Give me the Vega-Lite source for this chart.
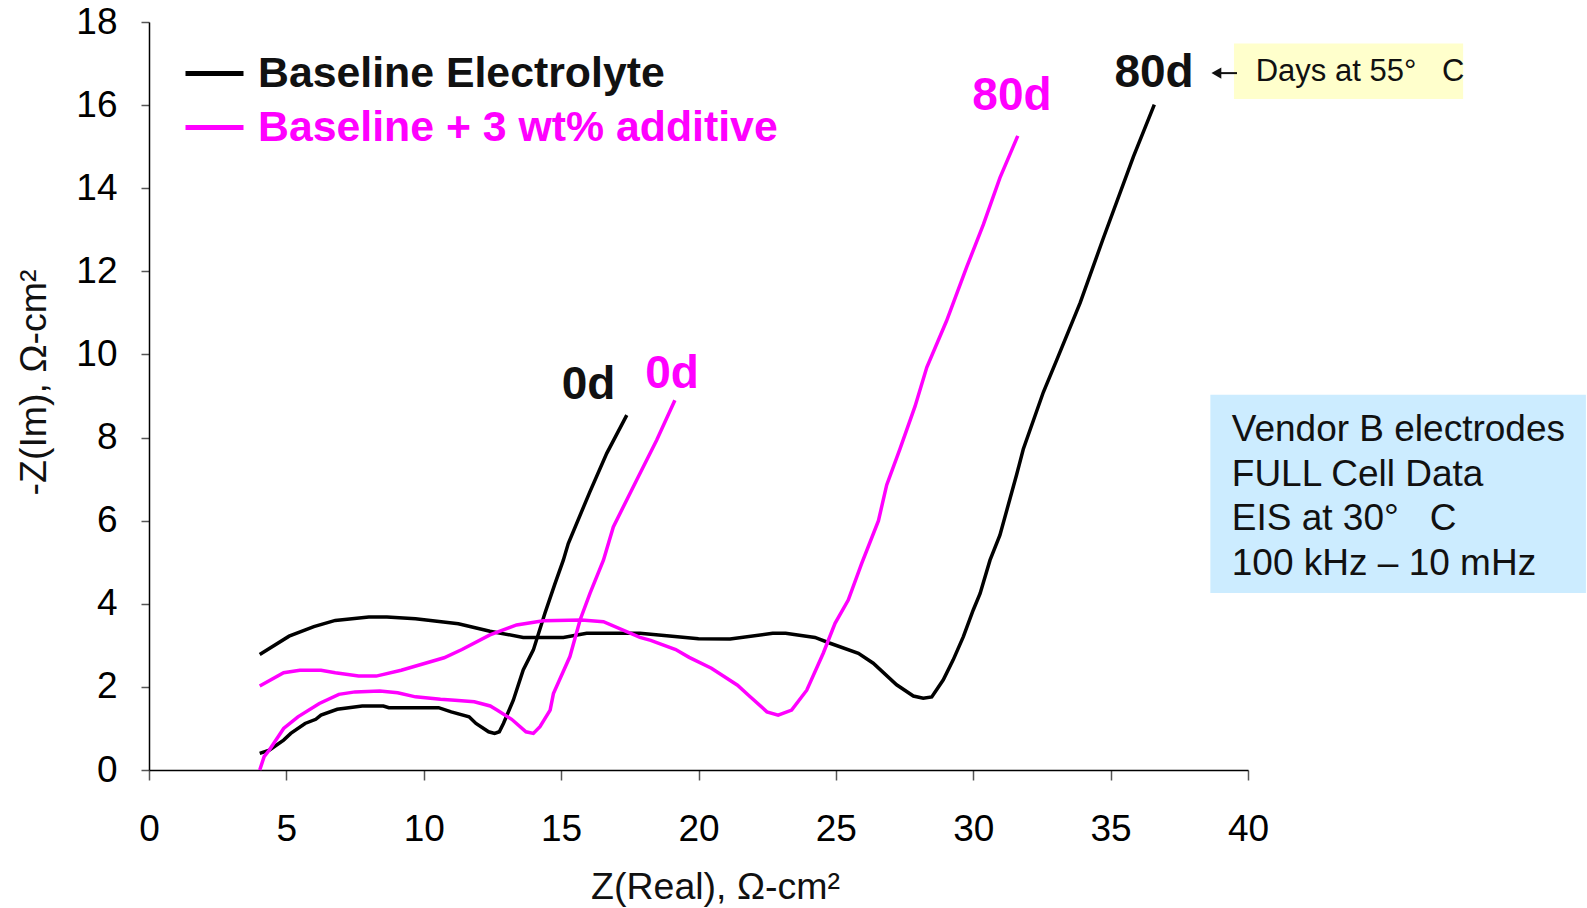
{
  "$schema": "https://vega.github.io/schema/vega-lite/v6.json",
  "width": 1099,
  "height": 748,
  "autosize": "none",
  "padding": {"left": 149, "top": 22, "right": 339, "bottom": 138},
  "background": "white",
  "config": {"view": {"stroke": null}, "font": "Liberation Sans"},
  "data": {"values": [
    {"series": "Baseline Electrolyte", "days": "0d", "i": 1, "x": 4.03, "y": 0.40},
    {"series": "Baseline Electrolyte", "days": "0d", "i": 2, "x": 4.38, "y": 0.48},
    {"series": "Baseline Electrolyte", "days": "0d", "i": 3, "x": 4.9, "y": 0.72},
    {"series": "Baseline Electrolyte", "days": "0d", "i": 4, "x": 5.16, "y": 0.88},
    {"series": "Baseline Electrolyte", "days": "0d", "i": 5, "x": 5.68, "y": 1.12},
    {"series": "Baseline Electrolyte", "days": "0d", "i": 6, "x": 6.07, "y": 1.22},
    {"series": "Baseline Electrolyte", "days": "0d", "i": 7, "x": 6.26, "y": 1.32},
    {"series": "Baseline Electrolyte", "days": "0d", "i": 8, "x": 6.85, "y": 1.46},
    {"series": "Baseline Electrolyte", "days": "0d", "i": 9, "x": 7.76, "y": 1.54},
    {"series": "Baseline Electrolyte", "days": "0d", "i": 10, "x": 8.53, "y": 1.54},
    {"series": "Baseline Electrolyte", "days": "0d", "i": 11, "x": 8.73, "y": 1.50},
    {"series": "Baseline Electrolyte", "days": "0d", "i": 12, "x": 10.54, "y": 1.50},
    {"series": "Baseline Electrolyte", "days": "0d", "i": 13, "x": 11.0, "y": 1.40},
    {"series": "Baseline Electrolyte", "days": "0d", "i": 14, "x": 11.65, "y": 1.28},
    {"series": "Baseline Electrolyte", "days": "0d", "i": 15, "x": 11.9, "y": 1.12},
    {"series": "Baseline Electrolyte", "days": "0d", "i": 16, "x": 12.36, "y": 0.92},
    {"series": "Baseline Electrolyte", "days": "0d", "i": 17, "x": 12.58, "y": 0.88},
    {"series": "Baseline Electrolyte", "days": "0d", "i": 18, "x": 12.75, "y": 0.92},
    {"series": "Baseline Electrolyte", "days": "0d", "i": 19, "x": 12.9, "y": 1.12},
    {"series": "Baseline Electrolyte", "days": "0d", "i": 20, "x": 13.26, "y": 1.68},
    {"series": "Baseline Electrolyte", "days": "0d", "i": 21, "x": 13.62, "y": 2.41},
    {"series": "Baseline Electrolyte", "days": "0d", "i": 22, "x": 13.99, "y": 2.89},
    {"series": "Baseline Electrolyte", "days": "0d", "i": 23, "x": 14.41, "y": 3.77},
    {"series": "Baseline Electrolyte", "days": "0d", "i": 24, "x": 14.78, "y": 4.49},
    {"series": "Baseline Electrolyte", "days": "0d", "i": 25, "x": 15.08, "y": 5.05},
    {"series": "Baseline Electrolyte", "days": "0d", "i": 26, "x": 15.26, "y": 5.45},
    {"series": "Baseline Electrolyte", "days": "0d", "i": 27, "x": 16.05, "y": 6.70},
    {"series": "Baseline Electrolyte", "days": "0d", "i": 28, "x": 16.66, "y": 7.62},
    {"series": "Baseline Electrolyte", "days": "0d", "i": 29, "x": 17.39, "y": 8.54},

    {"series": "Baseline Electrolyte", "days": "80d", "i": 1, "x": 4.03, "y": 2.78},
    {"series": "Baseline Electrolyte", "days": "80d", "i": 2, "x": 5.1, "y": 3.22},
    {"series": "Baseline Electrolyte", "days": "80d", "i": 3, "x": 6.0, "y": 3.45},
    {"series": "Baseline Electrolyte", "days": "80d", "i": 4, "x": 6.78, "y": 3.60},
    {"series": "Baseline Electrolyte", "days": "80d", "i": 5, "x": 8.0, "y": 3.68},
    {"series": "Baseline Electrolyte", "days": "80d", "i": 6, "x": 8.66, "y": 3.68},
    {"series": "Baseline Electrolyte", "days": "80d", "i": 7, "x": 9.7, "y": 3.64},
    {"series": "Baseline Electrolyte", "days": "80d", "i": 8, "x": 11.26, "y": 3.52},
    {"series": "Baseline Electrolyte", "days": "80d", "i": 9, "x": 12.41, "y": 3.34},
    {"series": "Baseline Electrolyte", "days": "80d", "i": 10, "x": 13.62, "y": 3.19},
    {"series": "Baseline Electrolyte", "days": "80d", "i": 11, "x": 15.08, "y": 3.19},
    {"series": "Baseline Electrolyte", "days": "80d", "i": 12, "x": 15.93, "y": 3.29},
    {"series": "Baseline Electrolyte", "days": "80d", "i": 13, "x": 17.87, "y": 3.29},
    {"series": "Baseline Electrolyte", "days": "80d", "i": 14, "x": 19.04, "y": 3.22},
    {"series": "Baseline Electrolyte", "days": "80d", "i": 15, "x": 20.0, "y": 3.16},
    {"series": "Baseline Electrolyte", "days": "80d", "i": 16, "x": 21.15, "y": 3.15},
    {"series": "Baseline Electrolyte", "days": "80d", "i": 17, "x": 22.7, "y": 3.29},
    {"series": "Baseline Electrolyte", "days": "80d", "i": 18, "x": 23.17, "y": 3.29},
    {"series": "Baseline Electrolyte", "days": "80d", "i": 19, "x": 24.24, "y": 3.19},
    {"series": "Baseline Electrolyte", "days": "80d", "i": 20, "x": 24.79, "y": 3.05},
    {"series": "Baseline Electrolyte", "days": "80d", "i": 21, "x": 25.82, "y": 2.81},
    {"series": "Baseline Electrolyte", "days": "80d", "i": 22, "x": 26.36, "y": 2.57},
    {"series": "Baseline Electrolyte", "days": "80d", "i": 23, "x": 27.21, "y": 2.05},
    {"series": "Baseline Electrolyte", "days": "80d", "i": 24, "x": 27.82, "y": 1.78},
    {"series": "Baseline Electrolyte", "days": "80d", "i": 25, "x": 28.18, "y": 1.73},
    {"series": "Baseline Electrolyte", "days": "80d", "i": 26, "x": 28.49, "y": 1.76},
    {"series": "Baseline Electrolyte", "days": "80d", "i": 27, "x": 28.91, "y": 2.17},
    {"series": "Baseline Electrolyte", "days": "80d", "i": 28, "x": 29.27, "y": 2.65},
    {"series": "Baseline Electrolyte", "days": "80d", "i": 29, "x": 29.64, "y": 3.21},
    {"series": "Baseline Electrolyte", "days": "80d", "i": 30, "x": 30.0, "y": 3.85},
    {"series": "Baseline Electrolyte", "days": "80d", "i": 31, "x": 30.25, "y": 4.25},
    {"series": "Baseline Electrolyte", "days": "80d", "i": 32, "x": 30.61, "y": 5.05},
    {"series": "Baseline Electrolyte", "days": "80d", "i": 33, "x": 30.97, "y": 5.65},
    {"series": "Baseline Electrolyte", "days": "80d", "i": 34, "x": 31.58, "y": 7.11},
    {"series": "Baseline Electrolyte", "days": "80d", "i": 35, "x": 31.82, "y": 7.72},
    {"series": "Baseline Electrolyte", "days": "80d", "i": 36, "x": 32.55, "y": 9.09},
    {"series": "Baseline Electrolyte", "days": "80d", "i": 37, "x": 33.04, "y": 9.87},
    {"series": "Baseline Electrolyte", "days": "80d", "i": 38, "x": 33.89, "y": 11.24},
    {"series": "Baseline Electrolyte", "days": "80d", "i": 39, "x": 34.73, "y": 12.79},
    {"series": "Baseline Electrolyte", "days": "80d", "i": 40, "x": 35.83, "y": 14.76},
    {"series": "Baseline Electrolyte", "days": "80d", "i": 41, "x": 36.59, "y": 16.01},

    {"series": "Baseline + 3 wt% additive", "days": "0d", "i": 1, "x": 4.03, "y": 0.0},
    {"series": "Baseline + 3 wt% additive", "days": "0d", "i": 2, "x": 4.19, "y": 0.32},
    {"series": "Baseline + 3 wt% additive", "days": "0d", "i": 3, "x": 4.38, "y": 0.48},
    {"series": "Baseline + 3 wt% additive", "days": "0d", "i": 4, "x": 4.9, "y": 1.0},
    {"series": "Baseline + 3 wt% additive", "days": "0d", "i": 5, "x": 5.42, "y": 1.28},
    {"series": "Baseline + 3 wt% additive", "days": "0d", "i": 6, "x": 6.2, "y": 1.6},
    {"series": "Baseline + 3 wt% additive", "days": "0d", "i": 7, "x": 6.91, "y": 1.82},
    {"series": "Baseline + 3 wt% additive", "days": "0d", "i": 8, "x": 7.5, "y": 1.88},
    {"series": "Baseline + 3 wt% additive", "days": "0d", "i": 9, "x": 8.4, "y": 1.90},
    {"series": "Baseline + 3 wt% additive", "days": "0d", "i": 10, "x": 9.05, "y": 1.86},
    {"series": "Baseline + 3 wt% additive", "days": "0d", "i": 11, "x": 9.7, "y": 1.76},
    {"series": "Baseline + 3 wt% additive", "days": "0d", "i": 12, "x": 10.61, "y": 1.70},
    {"series": "Baseline + 3 wt% additive", "days": "0d", "i": 13, "x": 11.13, "y": 1.68},
    {"series": "Baseline + 3 wt% additive", "days": "0d", "i": 14, "x": 11.84, "y": 1.64},
    {"series": "Baseline + 3 wt% additive", "days": "0d", "i": 15, "x": 12.42, "y": 1.54},
    {"series": "Baseline + 3 wt% additive", "days": "0d", "i": 16, "x": 12.68, "y": 1.44},
    {"series": "Baseline + 3 wt% additive", "days": "0d", "i": 17, "x": 13.2, "y": 1.22},
    {"series": "Baseline + 3 wt% additive", "days": "0d", "i": 18, "x": 13.72, "y": 0.92},
    {"series": "Baseline + 3 wt% additive", "days": "0d", "i": 19, "x": 13.99, "y": 0.88},
    {"series": "Baseline + 3 wt% additive", "days": "0d", "i": 20, "x": 14.23, "y": 1.04},
    {"series": "Baseline + 3 wt% additive", "days": "0d", "i": 21, "x": 14.6, "y": 1.44},
    {"series": "Baseline + 3 wt% additive", "days": "0d", "i": 22, "x": 14.72, "y": 1.84},
    {"series": "Baseline + 3 wt% additive", "days": "0d", "i": 23, "x": 15.32, "y": 2.73},
    {"series": "Baseline + 3 wt% additive", "days": "0d", "i": 24, "x": 15.69, "y": 3.61},
    {"series": "Baseline + 3 wt% additive", "days": "0d", "i": 25, "x": 16.05, "y": 4.25},
    {"series": "Baseline + 3 wt% additive", "days": "0d", "i": 26, "x": 16.54, "y": 5.05},
    {"series": "Baseline + 3 wt% additive", "days": "0d", "i": 27, "x": 16.9, "y": 5.85},
    {"series": "Baseline + 3 wt% additive", "days": "0d", "i": 28, "x": 17.75, "y": 6.98},
    {"series": "Baseline + 3 wt% additive", "days": "0d", "i": 29, "x": 18.48, "y": 7.94},
    {"series": "Baseline + 3 wt% additive", "days": "0d", "i": 30, "x": 19.14, "y": 8.90},

    {"series": "Baseline + 3 wt% additive", "days": "80d", "i": 1, "x": 4.03, "y": 2.02},
    {"series": "Baseline + 3 wt% additive", "days": "80d", "i": 2, "x": 4.9, "y": 2.34},
    {"series": "Baseline + 3 wt% additive", "days": "80d", "i": 3, "x": 5.49, "y": 2.40},
    {"series": "Baseline + 3 wt% additive", "days": "80d", "i": 4, "x": 6.26, "y": 2.40},
    {"series": "Baseline + 3 wt% additive", "days": "80d", "i": 5, "x": 6.78, "y": 2.34},
    {"series": "Baseline + 3 wt% additive", "days": "80d", "i": 6, "x": 7.63, "y": 2.26},
    {"series": "Baseline + 3 wt% additive", "days": "80d", "i": 7, "x": 8.27, "y": 2.26},
    {"series": "Baseline + 3 wt% additive", "days": "80d", "i": 8, "x": 9.18, "y": 2.40},
    {"series": "Baseline + 3 wt% additive", "days": "80d", "i": 9, "x": 10.74, "y": 2.70},
    {"series": "Baseline + 3 wt% additive", "days": "80d", "i": 10, "x": 11.39, "y": 2.90},
    {"series": "Baseline + 3 wt% additive", "days": "80d", "i": 11, "x": 12.41, "y": 3.25},
    {"series": "Baseline + 3 wt% additive", "days": "80d", "i": 12, "x": 13.38, "y": 3.49},
    {"series": "Baseline + 3 wt% additive", "days": "80d", "i": 13, "x": 14.35, "y": 3.59},
    {"series": "Baseline + 3 wt% additive", "days": "80d", "i": 14, "x": 15.75, "y": 3.61},
    {"series": "Baseline + 3 wt% additive", "days": "80d", "i": 15, "x": 16.54, "y": 3.57},
    {"series": "Baseline + 3 wt% additive", "days": "80d", "i": 16, "x": 17.87, "y": 3.19},
    {"series": "Baseline + 3 wt% additive", "days": "80d", "i": 17, "x": 18.26, "y": 3.12},
    {"series": "Baseline + 3 wt% additive", "days": "80d", "i": 18, "x": 19.17, "y": 2.90},
    {"series": "Baseline + 3 wt% additive", "days": "80d", "i": 19, "x": 19.66, "y": 2.71},
    {"series": "Baseline + 3 wt% additive", "days": "80d", "i": 20, "x": 20.47, "y": 2.45},
    {"series": "Baseline + 3 wt% additive", "days": "80d", "i": 21, "x": 21.42, "y": 2.04},
    {"series": "Baseline + 3 wt% additive", "days": "80d", "i": 22, "x": 21.82, "y": 1.80},
    {"series": "Baseline + 3 wt% additive", "days": "80d", "i": 23, "x": 22.49, "y": 1.40},
    {"series": "Baseline + 3 wt% additive", "days": "80d", "i": 24, "x": 22.9, "y": 1.32},
    {"series": "Baseline + 3 wt% additive", "days": "80d", "i": 25, "x": 23.39, "y": 1.44},
    {"series": "Baseline + 3 wt% additive", "days": "80d", "i": 26, "x": 23.94, "y": 1.92},
    {"series": "Baseline + 3 wt% additive", "days": "80d", "i": 27, "x": 24.54, "y": 2.81},
    {"series": "Baseline + 3 wt% additive", "days": "80d", "i": 28, "x": 24.97, "y": 3.53},
    {"series": "Baseline + 3 wt% additive", "days": "80d", "i": 29, "x": 25.45, "y": 4.09},
    {"series": "Baseline + 3 wt% additive", "days": "80d", "i": 30, "x": 25.94, "y": 4.97},
    {"series": "Baseline + 3 wt% additive", "days": "80d", "i": 31, "x": 26.55, "y": 6.0},
    {"series": "Baseline + 3 wt% additive", "days": "80d", "i": 32, "x": 26.85, "y": 6.86},
    {"series": "Baseline + 3 wt% additive", "days": "80d", "i": 33, "x": 27.33, "y": 7.72},
    {"series": "Baseline + 3 wt% additive", "days": "80d", "i": 34, "x": 27.88, "y": 8.75},
    {"series": "Baseline + 3 wt% additive", "days": "80d", "i": 35, "x": 28.31, "y": 9.69},
    {"series": "Baseline + 3 wt% additive", "days": "80d", "i": 36, "x": 29.03, "y": 10.81},
    {"series": "Baseline + 3 wt% additive", "days": "80d", "i": 37, "x": 29.76, "y": 12.1},
    {"series": "Baseline + 3 wt% additive", "days": "80d", "i": 38, "x": 30.37, "y": 13.13},
    {"series": "Baseline + 3 wt% additive", "days": "80d", "i": 39, "x": 30.97, "y": 14.25},
    {"series": "Baseline + 3 wt% additive", "days": "80d", "i": 40, "x": 31.62, "y": 15.26}
  ]},
  "layer": [
    {
      "mark": {"type": "line", "strokeWidth": 3.5, "interpolate": "linear", "clip": false},
      "encoding": {
        "x": {"field": "x", "type": "quantitative",
          "scale": {"domain": [0, 40], "nice": false, "zero": false},
          "axis": {"title": "Z(Real), Ω-cm²", "values": [0, 5, 10, 15, 20, 25, 30, 35, 40],
            "grid": false, "domainColor": "#000000", "domainWidth": 1.5, "tickColor": "#555555", "tickWidth": 1.5,
            "tickSize": 10, "labelFontSize": 37, "labelColor": "#000000", "labelPadding": 31, "labelFont": "Liberation Sans",
            "labelFlush": false, "labelOverlap": false,
            "titleFontSize": 37.5, "titleFontWeight": "normal", "titleColor": "#111111", "titlePadding": 21, "titleFont": "Liberation Sans",
            "titleX": 566, "titleAlign": "center"}},
        "y": {"field": "y", "type": "quantitative",
          "scale": {"domain": [0, 18], "nice": false, "zero": false},
          "axis": {"title": "-Z(Im), Ω-cm²", "values": [0, 2, 4, 6, 8, 10, 12, 14, 16, 18],
            "grid": false, "domainColor": "#000000", "domainWidth": 1.5, "tickColor": "#555555", "tickWidth": 1.5,
            "tickSize": 8, "labelFontSize": 37, "labelColor": "#000000", "labelPadding": 24, "labelFont": "Liberation Sans",
            "labelFlush": false, "labelOverlap": false,
            "titleFontSize": 37.5, "titleFontWeight": "normal", "titleColor": "#111111", "titlePadding": 22, "titleFont": "Liberation Sans",
            "titleY": 360, "titleAlign": "center"}},
        "color": {"field": "series", "type": "nominal",
          "scale": {"domain": ["Baseline Electrolyte", "Baseline + 3 wt% additive"], "range": ["#000000", "#FF00FF"]},
          "legend": {"orient": "none", "legendX": 34, "legendY": 20, "title": null,
            "symbolType": "stroke", "symbolSize": 3364, "symbolStrokeWidth": 5,
            "labelFontSize": 42.8, "labelFontWeight": "bold", "labelFont": "Liberation Sans", "labelOffset": 12,
            "labelLimit": 0, "rowPadding": -5, "padding": 0,
            "labelColor": {"expr": "datum.value === 'Baseline Electrolyte' ? '#111111' : '#FF00FF'"}}},
        "detail": {"field": "days", "type": "nominal"},
        "order": {"field": "i", "type": "quantitative"}
      }
    },
    {
      "data": {"values": [{}]},
      "mark": {"type": "rect", "color": "#CCECFF", "clip": false},
      "encoding": {"x": {"datum": 38.63}, "x2": {"datum": 52.3}, "y": {"datum": 9.03}, "y2": {"datum": 4.26}}
    },
    {
      "data": {"values": [{}]},
      "mark": {"type": "rect", "color": "#FFFFCC", "clip": false},
      "encoding": {"x": {"datum": 39.49}, "x2": {"datum": 47.83}, "y": {"datum": 17.48}, "y2": {"datum": 16.15}}
    },
    {
      "data": {"values": [{}]},
      "mark": {"type": "text", "fontSize": 37, "font": "Liberation Sans", "color": "#111111", "align": "left", "baseline": "middle", "lineBreak": "\n", "lineHeight": 44.5},
      "encoding": {"x": {"datum": 39.41}, "y": {"datum": 8.18}, "text": {"value": "Vendor B electrodes\nFULL Cell Data\nEIS at 30°\u00a0\u00a0 C\n100 kHz – 10 mHz"}}
    },
    {
      "data": {"values": [{}]},
      "mark": {"type": "text", "fontSize": 31, "font": "Liberation Sans", "color": "#111111", "align": "left", "baseline": "middle"},
      "encoding": {"x": {"datum": 40.28}, "y": {"datum": 16.8}, "text": {"value": "Days at 55°\u00a0\u00a0 C"}}
    },
    {
      "data": {"values": [{}]},
      "mark": {"type": "rule", "color": "#111111", "strokeWidth": 2},
      "encoding": {"x": {"datum": 38.8}, "x2": {"datum": 39.6}, "y": {"datum": 16.77}}
    },
    {
      "data": {"values": [{}]},
      "mark": {"type": "point", "shape": "triangle-left", "filled": true, "color": "#111111", "size": 130, "opacity": 1},
      "encoding": {"x": {"datum": 38.85}, "y": {"datum": 16.77}}
    },
    {
      "data": {"values": [{}]},
      "mark": {"type": "text", "fontSize": 46, "fontWeight": "bold", "font": "Liberation Sans", "color": "#111111", "align": "center", "baseline": "middle"},
      "encoding": {"x": {"datum": 16.0}, "y": {"datum": 9.26}, "text": {"value": "0d"}}
    },
    {
      "data": {"values": [{}]},
      "mark": {"type": "text", "fontSize": 46, "fontWeight": "bold", "font": "Liberation Sans", "color": "#FF00FF", "align": "center", "baseline": "middle"},
      "encoding": {"x": {"datum": 19.04}, "y": {"datum": 9.52}, "text": {"value": "0d"}}
    },
    {
      "data": {"values": [{}]},
      "mark": {"type": "text", "fontSize": 46, "fontWeight": "bold", "font": "Liberation Sans", "color": "#FF00FF", "align": "center", "baseline": "middle"},
      "encoding": {"x": {"datum": 31.41}, "y": {"datum": 16.22}, "text": {"value": "80d"}}
    },
    {
      "data": {"values": [{}]},
      "mark": {"type": "text", "fontSize": 46, "fontWeight": "bold", "font": "Liberation Sans", "color": "#111111", "align": "center", "baseline": "middle"},
      "encoding": {"x": {"datum": 36.58}, "y": {"datum": 16.77}, "text": {"value": "80d"}}
    }
  ]
}
